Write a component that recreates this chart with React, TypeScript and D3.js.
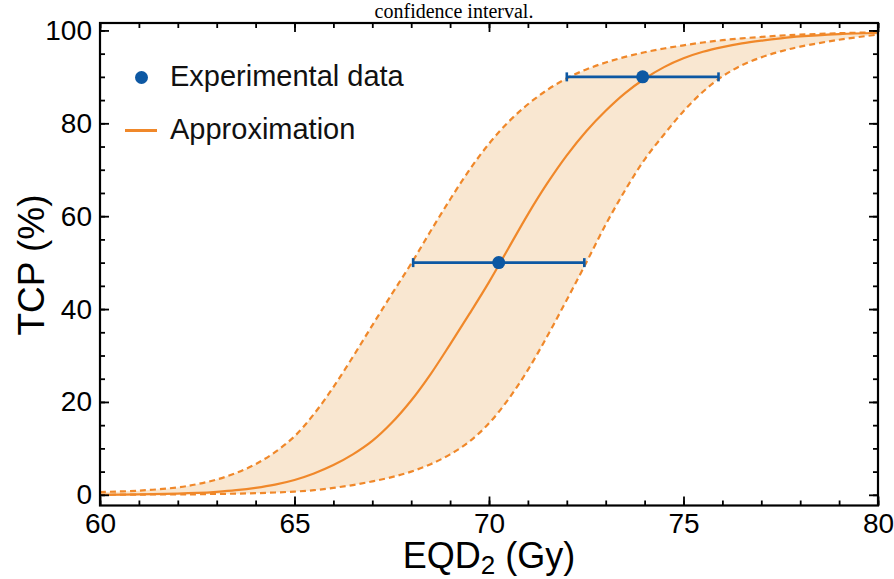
import * as d3 from 'd3';
import React, { useEffect, useRef } from 'react';

// dose grid (Gy) and curves (TCP in %)
const doseGrid = [60, 61, 62, 62.5, 63, 63.5, 64, 64.5, 65, 65.5, 66, 66.5, 67, 67.5, 68, 68.5, 69, 69.5, 70, 70.5,
  71, 71.5, 72, 72.5, 73, 73.5, 74, 74.5, 75, 75.5, 76, 76.5, 77, 77.5, 78, 79, 80];
const tcpFit = [0.0, 0.1, 0.25, 0.4, 0.65, 1.0, 1.5, 2.2, 3.2, 4.6, 6.4, 8.7, 11.6, 15.5, 20.3, 26.0, 32.4, 39.0, 45.8, 53.1,
  60.4, 67.1, 73.1, 78.3, 82.7, 86.5, 89.6, 92.1, 94.0, 95.4, 96.4, 97.2, 97.8, 98.3, 98.7, 99.2, 99.5];
const tcpUpper = [0.6, 0.9, 1.6, 2.3, 3.3, 4.7, 6.6, 9.2, 12.6, 17.4, 23.2, 29.7, 36.5, 43.2, 49.8, 56.8, 63.6, 70.0, 75.6, 80.3,
  84.1, 87.2, 89.7, 91.6, 93.1, 94.3, 95.3, 96.1, 96.8, 97.4, 97.9, 98.3, 98.6, 98.9, 99.1, 99.4, 99.6];
const tcpLower = [0.0, 0.05, 0.1, 0.12, 0.2, 0.25, 0.35, 0.5, 0.7, 1.0, 1.5, 2.1, 2.9, 3.8, 5.0, 6.6, 8.7, 11.5, 15.4, 20.6,
  26.9, 34.2, 42.0, 50.0, 58.2, 65.6, 72.2, 77.6, 82.6, 86.8, 90.1, 92.5, 94.2, 95.5, 96.5, 98.0, 99.1];

// experimental points with dose error bars
const expDose = [70.25, 73.95];
const expTcp = [50, 90];
const expLow = [68.05, 72.0];
const expHigh = [72.45, 75.9];

const xTicks = [60, 65, 70, 75, 80];
const yTicks = [0, 20, 40, 60, 80, 100];
const legendLabels = ['Experimental data', 'Approximation'];

const ORANGE = '#f0882a';
const BAND = '#f9e7d1';
const BLUE = '#0d58a3';
const FONT = 'Liberation Sans, Arial, sans-serif';

function drawChart(node: SVGSVGElement) {
  const svg = d3.select(node);
  svg.selectAll('*').remove();

  const left = 100, right = 878, top = 23, bottom = 505.5;

  const x = d3.scaleLinear().domain([60, 80]).range([left, right]);
  const y = d3.scaleLinear().domain([-2.3, 101.6]).range([bottom, top]);

  const rows = doseGrid.map((d, i) => ({ d, fit: tcpFit[i], up: tcpUpper[i], lo: tcpLower[i] }));
  const smooth = d3.curveCatmullRom.alpha(0.5);

  // caption fragment from the page above
  svg.append('text')
    .attr('x', 454).attr('y', 18)
    .attr('text-anchor', 'middle')
    .attr('font-family', 'Liberation Serif, Times New Roman, serif')
    .attr('font-size', 20)
    .text('confidence interval.');

  const plot = svg.append('g');

  // confidence band
  const band = d3.area<any>()
    .x(r => x(r.d))
    .y0(r => y(r.lo))
    .y1(r => y(r.up))
    .curve(smooth);
  plot.append('path').datum(rows)
    .attr('fill', BAND)
    .attr('d', band);

  const lineOf = (key: string) => d3.line<any>()
    .x(r => x(r.d))
    .y(r => y(r[key]))
    .curve(smooth);

  ['up', 'lo'].forEach(k => {
    plot.append('path').datum(rows)
      .attr('fill', 'none')
      .attr('stroke', ORANGE)
      .attr('stroke-width', 2.2)
      .attr('stroke-dasharray', '6,4')
      .attr('d', lineOf(k));
  });

  plot.append('path').datum(rows)
    .attr('fill', 'none')
    .attr('stroke', ORANGE)
    .attr('stroke-width', 2.2)
    .attr('d', lineOf('fit'));

  // error bars
  expDose.forEach((d, i) => {
    const yy = y(expTcp[i]);
    const g = plot.append('g').attr('stroke', BLUE).attr('stroke-width', 2.6);
    g.append('line').attr('x1', x(expLow[i])).attr('x2', x(expHigh[i])).attr('y1', yy).attr('y2', yy);
    g.append('line').attr('x1', x(expLow[i])).attr('x2', x(expLow[i])).attr('y1', yy - 4.5).attr('y2', yy + 4.5);
    g.append('line').attr('x1', x(expHigh[i])).attr('x2', x(expHigh[i])).attr('y1', yy - 4.5).attr('y2', yy + 4.5);
    plot.append('circle').attr('cx', x(d)).attr('cy', yy).attr('r', 6.5).attr('fill', BLUE);
  });

  // axes: ticks point inward on all four sides
  const styleAxis = (g: any) => {
    g.select('.domain').remove();
    g.selectAll('line').attr('stroke', '#000').attr('stroke-width', 1.8);
    g.selectAll('text').attr('font-family', FONT).attr('font-size', 28).attr('fill', '#000');
  };

  const xMinor = d3.range(60, 81, 1);
  const yMinor = d3.range(0, 101, 5);

  svg.append('g').attr('transform', `translate(0,${bottom})`)
    .call(d3.axisBottom(x).tickValues(xMinor).tickSize(-5).tickFormat(() => '')).call(styleAxis);
  svg.append('g').attr('transform', `translate(0,${bottom})`)
    .call(d3.axisBottom(x).tickValues(xTicks).tickSize(-9).tickPadding(8).tickFormat(d3.format('d'))).call(styleAxis);
  svg.append('g').attr('transform', `translate(0,${top})`)
    .call(d3.axisTop(x).tickValues(xMinor).tickSize(-5).tickFormat(() => '')).call(styleAxis);
  svg.append('g').attr('transform', `translate(0,${top})`)
    .call(d3.axisTop(x).tickValues(xTicks).tickSize(-9).tickFormat(() => '')).call(styleAxis);

  svg.append('g').attr('transform', `translate(${left},0)`)
    .call(d3.axisLeft(y).tickValues(yMinor).tickSize(-5).tickFormat(() => '')).call(styleAxis);
  svg.append('g').attr('transform', `translate(${left},0)`)
    .call(d3.axisLeft(y).tickValues(yTicks).tickSize(-9).tickPadding(8).tickFormat(d3.format('d'))).call(styleAxis);
  svg.append('g').attr('transform', `translate(${right},0)`)
    .call(d3.axisRight(y).tickValues(yMinor).tickSize(-5).tickFormat(() => '')).call(styleAxis);
  svg.append('g').attr('transform', `translate(${right},0)`)
    .call(d3.axisRight(y).tickValues(yTicks).tickSize(-9).tickFormat(() => '')).call(styleAxis);

  svg.append('rect')
    .attr('x', left).attr('y', top)
    .attr('width', right - left).attr('height', bottom - top)
    .attr('fill', 'none').attr('stroke', '#000').attr('stroke-width', 2.2);

  // axis titles
  const xt = svg.append('text')
    .attr('x', 489).attr('y', 568)
    .attr('text-anchor', 'middle')
    .attr('font-family', FONT).attr('font-size', 36);
  xt.append('tspan').text('EQD');
  xt.append('tspan').attr('font-size', 26).attr('dy', 6).text('2');
  xt.append('tspan').attr('dy', -6).text(' (Gy)');

  svg.append('text')
    .attr('transform', 'translate(44,265) rotate(-90)')
    .attr('text-anchor', 'middle')
    .attr('font-family', FONT).attr('font-size', 37)
    .text('TCP (%)');

  // legend
  svg.append('circle').attr('cx', 141.5).attr('cy', 77.5).attr('r', 6.5).attr('fill', BLUE);
  svg.append('line').attr('x1', 125).attr('x2', 157).attr('y1', 130.5).attr('y2', 130.5)
    .attr('stroke', ORANGE).attr('stroke-width', 3);
  svg.selectAll('.leg').data(legendLabels).join('text')
    .attr('class', 'leg')
    .attr('x', 170)
    .attr('y', (_, i) => 86 + i * 53)
    .attr('font-family', FONT).attr('font-size', 29)
    .attr('fill', '#111')
    .text(d => d);
}

export default function App() {
  const ref = useRef<SVGSVGElement>(null);
  useEffect(() => {
    if (ref.current) drawChart(ref.current);
  });
  return (
    <svg ref={ref} width={894} height={579}
      style={{ position: 'absolute', left: 0, top: 0, background: '#fff' }} />
  );
}
